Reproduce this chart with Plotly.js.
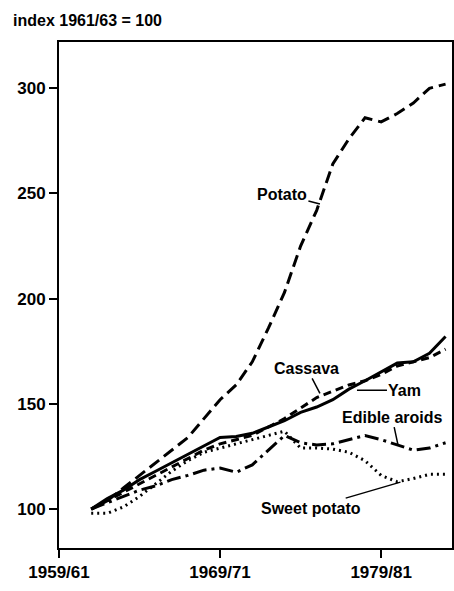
<!DOCTYPE html>
<html>
<head>
<meta charset="utf-8">
<script src="https://cdn.plot.ly/plotly-3.0.1.min.js"></script>
<style>html,body{margin:0;padding:0;background:#fff;}#chart{width:454px;height:591px;}</style>
</head>
<body>
<div id="chart"></div>
<script>
const years = [1962,1963,1964,1965,1966,1967,1968,1969,1970,1971,1972,1973,1974,1975,1976,1977,1978,1979,1980,1981,1982,1983,1984];
const potato = [100,104,110,116,122,128,134,143,152,159,170,186,203,225,242,264,276,286,284,288,293,300,302];
const cassava = [100,104,108,112,116,120,124,128,131,133,135,139,143,148,153,156,159,161,164,168,170,172,176];
const yam = [100,105,109,114,118,122,126,130,134,134.5,136,139,142,146,148.5,152,157,161,165,169.4,170,174,182];
const sweetPotato = [98,98,101,106,112,118,123,127,129,131,133,135,137,129,129,128.5,127,123,116,113,114.5,116.5,116.5];
const edibleAroids = [100,103,106,109,111,114,116,118.5,119.5,117.5,121,128,135,131.5,130.5,131,133,135,133,130.5,128,129,131.5];

const xTickVals = [1960,1970,1980];
const xTickText = ['1959/61','1969/71','1979/81'];
const yTickVals = [100,150,200,250,300];

const fam = 'Liberation Sans, Arial, sans-serif';
const tickFont = {family:fam, size:17, color:'#000', weight:'bold'};
const labFont = {family:fam, size:16, color:'#000', weight:'bold'};

function tr(y, dash, name){
  return {x: years, y: y, type:'scatter', mode:'lines', name: name,
    line:{color:'#000', width:3, dash: dash}, hoverinfo:'skip'};
}
const data = [
  tr(potato, '12px,6px', 'Potato'),
  tr(cassava, '8px,5px', 'Cassava'),
  tr(yam, 'solid', 'Yam'),
  tr(edibleAroids, '14px,5px,3px,5px', 'Edible aroids'),
  tr(sweetPotato, '2px,4px', 'Sweet potato')
];

function lab(text, x, y, ax, ay){
  return {text:text, x:x, y:y, xref:'x', yref:'y', showarrow:true, arrowhead:0,
    arrowwidth:1.5, arrowcolor:'#000', ax:ax, ay:ay, font:labFont};
}
const layout = {
  width:454, height:591,
  margin:{l:59, r:2, t:42, b:43},
  paper_bgcolor:'#fff', plot_bgcolor:'#fff',
  showlegend:false,
  font: labFont,
  xaxis:{range:[1960,1984.4], showgrid:false, zeroline:false, showline:true, mirror:true,
    linecolor:'#000', linewidth:2, ticks:'outside', ticklen:8, tickwidth:2, tickcolor:'#000',
    tickvals:xTickVals, ticktext:xTickText, tickfont:tickFont},
  yaxis:{range:[81.5,322], showgrid:false, zeroline:false, showline:true, mirror:true,
    linecolor:'#000', linewidth:2, ticks:'outside', ticklen:8, tickwidth:2, tickcolor:'#000',
    tickvals:yTickVals, tickfont:tickFont},
  annotations:[
    {text:'index 1961/63 = 100', xref:'paper', yref:'paper', x:-48/393, y:1+22/506,
     xanchor:'left', yanchor:'middle', showarrow:false, font:labFont},
    lab('Potato', 1976.2, 245, -38, -10),
    lab('Cassava', 1976.2, 155, -13, -25),
    lab('Yam', 1978.5, 156.5, 48, 0),
    lab('Edible aroids', 1981.05, 130.4, -6, -28),
    lab('Sweet potato', 1981.2, 112.8, -89, 26)
  ]
};
Plotly.newPlot('chart', data, layout, {displayModeBar:false, staticPlot:true});
</script>
</body>
</html>
